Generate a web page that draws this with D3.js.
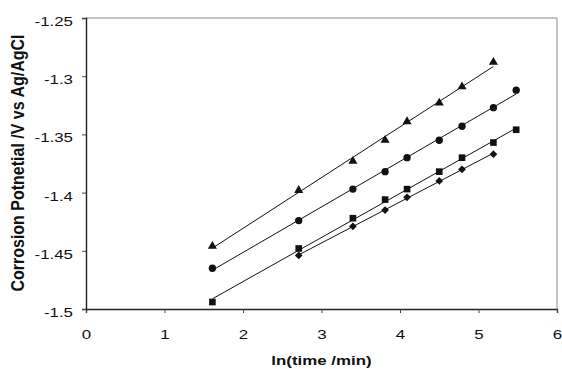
<!DOCTYPE html>
<html>
<head>
<meta charset="utf-8">
<script src="https://cdn.jsdelivr.net/npm/d3@7"></script>
<style>
  body { margin: 0; background: #fff; }
  text { font-family: "Liberation Sans", Arial, sans-serif; fill: #111; }
</style>
</head>
<body>
<div class="chart"></div>
<script>
// ln(time/min) values
var lnTime = [1.61, 2.71, 3.40, 3.81, 4.09, 4.50, 4.79, 5.19, 5.48];

// corrosion potential (V vs Ag/AgCl) per series
var triangleVals = [-1.446, -1.398, -1.373, -1.355, -1.339, -1.323, -1.309, -1.288];
var circleVals   = [-1.465, -1.424, -1.397, -1.382, -1.370, -1.355, -1.343, -1.327, -1.312];
var squareVals   = [-1.494, -1.448, -1.422, -1.406, -1.397, -1.382, -1.370, -1.357, -1.346];
var diamondVals  = [-1.454, -1.429, -1.415, -1.404, -1.390, -1.380, -1.367];

var xTicks = [0, 1, 2, 3, 4, 5, 6];
var yTicks = [-1.5, -1.45, -1.4, -1.35, -1.3, -1.25];

var series = [
    {name: 'triangle', sym: d3.symbolTriangle, size: 36, rot: 0, x: lnTime.slice(0, 8), y: triangleVals},
    {name: 'circle', sym: d3.symbolCircle, size: 42, rot: 0, x: lnTime, y: circleVals},
    {name: 'square', sym: d3.symbolSquare, size: 44, rot: 0, x: lnTime, y: squareVals},
    {name: 'diamond', sym: d3.symbolSquare, size: 30, rot: 45, x: lnTime.slice(1, 8), y: diamondVals}
];

var width = 562, height = 369;
var margin = {left: 86, right: 5, top: 18, bottom: 60};
var stretch = 1.3; // text in the original is drawn wide

var svg = d3.select('.chart')
    .append('svg')
    .attr('width', width)
    .attr('height', height);

var x = d3.scaleLinear().domain([0, 6]).range([margin.left, width - margin.right]);
var y = d3.scaleLinear().domain([-1.5, -1.25]).range([height - margin.bottom, margin.top]);

// frame: top and right in grey
svg.append('path')
    .attr('d', 'M' + x(0) + ',' + y(-1.25) + 'H' + x(6) + 'V' + y(-1.5))
    .attr('fill', 'none')
    .attr('stroke', '#8a8a8a')
    .attr('stroke-width', 1);

var xAxis = svg.append('g')
    .attr('transform', 'translate(0,' + y(-1.5) + ')')
    .call(d3.axisBottom(x).tickValues(xTicks).tickSize(4).tickFormat(d3.format('d')));

var yAxis = svg.append('g')
    .attr('transform', 'translate(' + x(0) + ',0)')
    .call(d3.axisLeft(y).tickValues(yTicks).tickSize(4).tickFormat(function(d){ return String(d); }));

[xAxis, yAxis].forEach(function(a){
    a.select('.domain').attr('stroke', '#222').attr('stroke-width', 1.4);
    a.selectAll('.tick line').attr('stroke', '#444');
});

// tick labels, widened like the source
xAxis.selectAll('.tick text')
    .attr('y', null).attr('dy', null)
    .attr('transform', 'translate(0,30) scale(' + stretch + ',1)')
    .style('font-size', '13px');

yAxis.selectAll('.tick text')
    .attr('x', null).attr('dy', null)
    .attr('transform', 'translate(-13,7.5) scale(' + stretch + ',1)')
    .style('font-size', '13px');

// least squares fit per series, drawn over the series' own x range
function fit(xs, ys){
    var mx = d3.mean(xs), my = d3.mean(ys);
    var sxy = d3.sum(xs, function(v, i){ return (v - mx) * (ys[i] - my); });
    var sxx = d3.sum(xs, function(v){ return (v - mx) * (v - mx); });
    var b = sxy / sxx;
    return function(v){ return my + b * (v - mx); };
}

var line = d3.line()
    .x(function(d){ return x(d[0]); })
    .y(function(d){ return y(d[1]); });

series.forEach(function(s){
    var pts = s.y.map(function(v, i){ return [s.x[i], v]; });
    var f = fit(s.x, s.y);
    var ends = d3.extent(s.x).map(function(v){ return [v, f(v)]; });
    svg.append('path')
        .datum(ends)
        .attr('d', line)
        .attr('fill', 'none')
        .attr('stroke', '#111')
        .attr('stroke-width', 1);
    svg.append('g')
        .selectAll('path')
        .data(pts)
        .enter()
            .append('path')
            .attr('d', d3.symbol().type(s.sym).size(s.size))
            .attr('transform', function(d){ return 'translate(' + x(d[0]) + ',' + y(d[1]) + ') rotate(' + s.rot + ')'; })
            .attr('fill', '#111');
});

// axis titles
svg.append('text')
    .attr('transform', 'translate(' + ((x(0) + x(6)) / 2) + ',365) scale(' + stretch + ',1)')
    .attr('text-anchor', 'middle')
    .style('font-size', '13px')
    .style('font-weight', 'bold')
    .text('ln(time /min)');

svg.append('text')
    .attr('transform', 'translate(24,' + 163 + ') scale(1.15,1) rotate(-90)')
    .attr('text-anchor', 'middle')
    .style('font-size', '16px')
    .style('font-weight', 'bold')
    .text('Corrosion Potnetial /V vs Ag/AgCl');
</script>
</body>
</html>
